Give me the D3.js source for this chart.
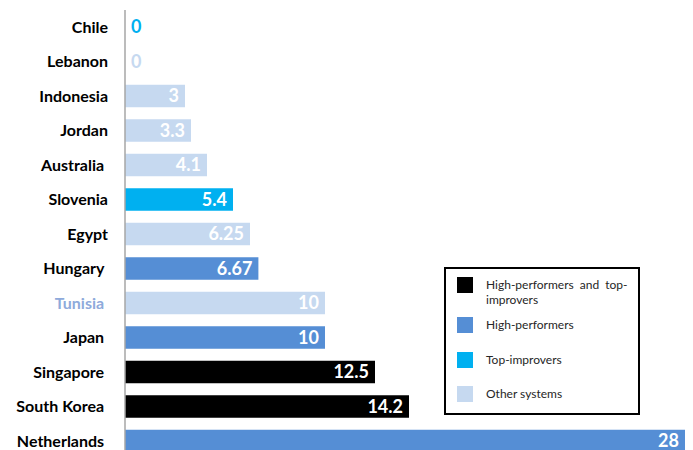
<!DOCTYPE html>
<html>
<head>
<meta charset="utf-8">
<script src="https://cdn.jsdelivr.net/npm/d3@7/dist/d3.min.js"></script>
<style>
  html, body { margin: 0; padding: 0; background: #ffffff; }
  svg { display: block; }
  .cat { font-family: Lato, "Open Sans", sans-serif; font-weight: 700; font-size: 16px; white-space: pre; }
  .val { font-family: Lato, "Open Sans", sans-serif; font-weight: 700; font-size: 18px; }
  .leg { font-family: Lato, "Open Sans", sans-serif; font-size: 12px; fill: #262626; }
</style>
</head>
<body>
<svg id="chart" width="693" height="450"></svg>
<script>
// Systems, in display order from top to bottom
const countries = ["Chile", "Lebanon", "Indonesia", "Jordan", "Australia ", "Slovenia", "Egypt",
                   "Hungary ", "Tunisia ", "Japan ", "Singapore ", "South Korea ", "Netherlands "];
const values = [0, 0, 3, 3.3, 4.1, 5.4, 6.25, 6.67, 10, 10, 12.5, 14.2, 28];
const groups = ["top", "other", "other", "other", "other", "top", "other",
                "high", "other", "high", "both", "both", "high"];

// Legend entries
const groupKeys = ["both", "high", "top", "other"];
const groupLabels = [["High-performers and top-", "improvers"], ["High-performers"], ["Top-improvers"], ["Other systems"]];
const groupColors = ["#000000", "#558ed5", "#00b0f0", "#c6d9f0"];

const width = 693, height = 450;
const svg = d3.select("#chart");

const color = d3.scaleOrdinal().domain(groupKeys).range(groupColors);

const x = d3.scaleLinear().domain([0, 28]).range([125, 685]);
const y = d3.scaleBand()
  .domain(countries)
  .range([9.75, 458.25])
  .paddingInner(0.348)
  .paddingOuter(0.174);

const rows = countries.map((c, i) => ({ name: c, value: values[i], group: groups[i] }));

// Bars
svg.append("g").selectAll("rect")
  .data(rows)
  .join("rect")
  .attr("x", x(0))
  .attr("y", d => y(d.name))
  .attr("width", d => x(d.value) - x(0))
  .attr("height", y.bandwidth())
  .attr("fill", d => color(d.group));

// Category axis (vertical line, no ticks)
const yAxis = d3.axisLeft(y).tickSize(0).tickPadding(17);
const ag = svg.append("g").attr("transform", `translate(${x(0)},0)`).call(yAxis);
ag.select(".domain").attr("stroke", "#a6a6a6").attr("stroke-width", 1.5)
  .attr("d", `M0,10V${height}`);
ag.selectAll(".tick text")
  .attr("class", "cat")
  .attr("fill", d => d.trim() === "Tunisia" ? "#8eaadb" : "#000000")
  .attr("dy", "0.36em");

// Value labels: inside the end of each bar, or just right of the axis for zero
svg.append("g").selectAll("text")
  .data(rows)
  .join("text")
  .attr("class", "val")
  .attr("x", d => d.value === 0 ? x(0) + 6 : x(d.value) - 6)
  .attr("y", d => y(d.name) + y.bandwidth() / 2)
  .attr("dy", "0.36em")
  .attr("text-anchor", d => d.value === 0 ? "start" : "end")
  .attr("fill", d => d.value === 0 ? color(d.group) : "#ffffff")
  .text(d => d3.format("")(d.value));

// Legend
const lg = svg.append("g");
lg.append("rect")
  .attr("x", 445).attr("y", 268)
  .attr("width", 194).attr("height", 146)
  .attr("fill", "#ffffff").attr("stroke", "#000000").attr("stroke-width", 2);

const swatchY = [277, 317, 352, 386];
const item = lg.selectAll("g.item")
  .data(groupKeys)
  .join("g")
  .attr("class", "item")
  .attr("transform", (d, i) => `translate(457,${swatchY[i]})`);
item.append("rect")
  .attr("width", 16).attr("height", 16)
  .attr("fill", d => color(d));
item.append("text")
  .attr("class", "leg")
  .attr("x", 29)
  .attr("y", 12)
  .selectAll("tspan")
  .data((d, i) => groupLabels[i].map((t, j) => ({ t, justify: j === 0 && groupLabels[i].length > 1 })))
  .join("tspan")
  .attr("x", 29)
  .attr("dy", (d, i) => i === 0 ? 0 : 15)
  .attr("word-spacing", d => d.justify ? 3 : null)
  .text(d => d.t);
</script>
</body>
</html>
